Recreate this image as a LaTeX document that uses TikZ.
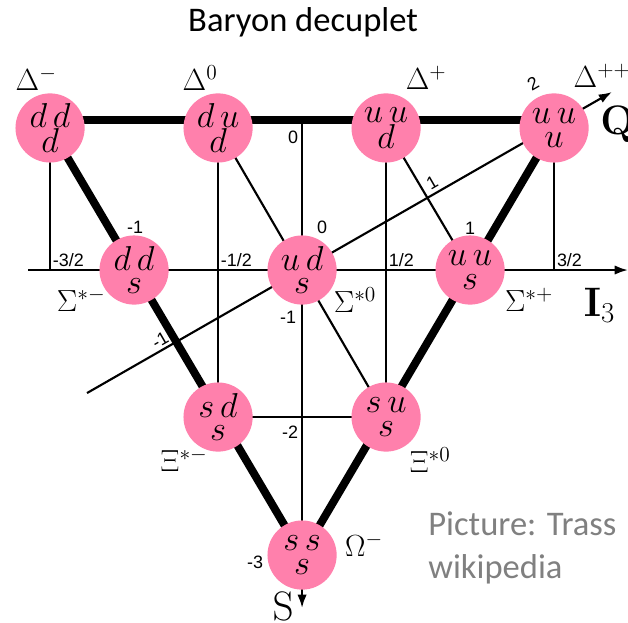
\RequirePackage{fix-cm}
\documentclass[tikz,border=0pt]{standalone}
\usepackage[no-math]{fontspec}
\setmainfont{Liberation Sans}
\newfontfamily\calibri{Carlito}
\usetikzlibrary{arrows.meta,backgrounds}
\definecolor{quarkpink}{RGB}{255,128,172}
\definecolor{creditgray}{RGB}{128,128,128}
\begin{document}
\begin{tikzpicture}[x=4.445cm, y=3.969cm,
  quark/.style={circle, fill=quarkpink, minimum size=1.83cm, inner sep=0pt,
    align=center, font=\fontsize{26}{17.5}\selectfont},
  gridline/.style={line width=1.6pt},
  edgeline/.style={line width=6pt},
  axisline/.style={line width=1.6pt, -{Latex[length=10pt,width=7pt]}},
  num/.style={font=\fontsize{13.5}{15}\selectfont, inner sep=2pt},
  hadron/.style={font=\fontsize{23}{25}\selectfont, inner sep=0pt},
  axislabel/.style={font=\fontsize{31}{33}\selectfont, inner sep=0pt}]
  \path[use as bounding box] (-1.798,-2.347) rectangle (1.940,1.8);
  \node[font=\calibri\fontsize{26}{30}\selectfont] (title) at (0.006,1.653) {Baryon decuplet};
  \node[quark] (ddd) at (-1.5,0.947) {$d\,d$\\$d$};
  \node[quark] (dud) at (-0.5,0.947) {$d\,u$\\$d$};
  \node[quark] (uud) at (0.5,0.947) {$u\,u$\\$d$};
  \node[quark] (uuu) at (1.5,0.947) {$u\,u$\\$u$};
  \node[quark] (dds) at (-1,0) {$d\,d$\\$s$};
  \node[quark] (uds) at (0,0) {$u\,d$\\$s$};
  \node[quark] (uus) at (1,0) {$u\,u$\\$s$};
  \node[quark] (sds) at (-0.5,-0.98) {$s\,d$\\$s$};
  \node[quark] (sus) at (0.5,-0.98) {$s\,u$\\$s$};
  \node[quark] (sss) at (0,-1.9) {$s\,s$\\$s$};
  \coordinate (ileft) at (-1.631,0);
  \coordinate (iright) at (1.94,0);
  \coordinate (sbottom) at (0,-2.253);
  \coordinate (qstart) at (-1.280,-0.82);
  \coordinate (qend) at (1.845,1.187);
  \begin{scope}[on background layer]
    \draw[axisline] (ileft) -- (iright);
    \draw[axisline] ([yshift=6pt]uds |- dud) -- (sbottom);
    \draw[axisline] (qstart) -- (qend);
    \draw[gridline] (ddd.center) -- (ddd |- uds);
    \draw[gridline] (uuu.center) -- (uuu |- uds);
    \draw[gridline] (dud.center) -- (sds.center);
    \draw[gridline] (uud.center) -- (sus.center);
    \draw[gridline] (sds.center) -- (sus.center);
    \draw[gridline] (dud.center) -- (sus.center);
    \draw[gridline] (uud.center) -- (uus.center);
    \draw[edgeline] ([yshift=6pt]ddd.center) -- ([yshift=6pt]uuu.center);
    \draw[edgeline] (ddd.center) -- (sss.center);
    \draw[edgeline] (uuu.center) -- (sss.center);
  \end{scope}
  \node[num, anchor=south west] (im3) at (-1.5,0) {-3/2};
  \node[num, anchor=south west] (im1) at (-0.5,0) {-1/2};
  \node[num, anchor=south west] (ip1) at (0.5,0) {1/2};
  \node[num, anchor=south west] (ip3) at (1.5,0) {3/2};
  \node[num] (s0) at (-0.054,0.887) {0};
  \node[num] (s1) at (-0.083,-0.313) {-1};
  \node[num] (s2) at (-0.071,-1.08) {-2};
  \node[num] (s3) at (-0.28,-1.947) {-3};
  \node[num] (qm) at (-0.994,0.287) {-1};
  \node[num] (qz) at (0.119,0.287) {0};
  \node[num] (qp) at (1.0,0.28) {1};
  \node[num, rotate=30] (tm) at (-0.845,-0.467) {-1};
  \node[num, rotate=30] (tp) at (0.774,0.58) {1};
  \node[num, rotate=30] (tpp) at (1.375,1.24) {2};
  \node[hadron] (dm) at (-1.583,1.273) {$\Delta^{-}$};
  \node[hadron] (dz) at (-0.607,1.28) {$\Delta^{0}$};
  \node[hadron] (dp) at (0.738,1.28) {$\Delta^{+}$};
  \node[hadron] (dpp) at (1.786,1.293) {$\Delta^{++}$};
  \node[hadron] (sm) at (-1.315,-0.2) {$\Sigma^{*-}$};
  \node[hadron] (sz) at (0.315,-0.2) {$\Sigma^{*0}$};
  \node[hadron] (sp) at (1.351,-0.2) {$\Sigma^{*+}$};
  \node[hadron] (xm) at (-0.702,-1.267) {$\Xi^{*-}$};
  \node[hadron] (xz) at (0.762,-1.267) {$\Xi^{*0}$};
  \node[hadron] (om) at (0.369,-1.833) {$\Omega^{-}$};
  \node[axislabel, anchor=west] (qlab) at (1.774,0.973) {$\mathbf{Q}$};
  \node[axislabel] (ilab) at (1.77,-0.233) {$\mathbf{I}_3$};
  \node[axislabel] (slab) at (-0.113,-2.24) {$\mathrm{S}$};
  \node[font=\calibri\fontsize{26}{30}\selectfont, text=creditgray, anchor=base west, inner sep=0pt]
    (credit1) at (0.75,-1.767) {Picture: Trass};
  \node[font=\calibri\fontsize{26}{30}\selectfont, text=creditgray, anchor=base west, inner sep=0pt]
    (credit2) at (0.75,-2.053) {wikipedia};
\end{tikzpicture}
\end{document}
